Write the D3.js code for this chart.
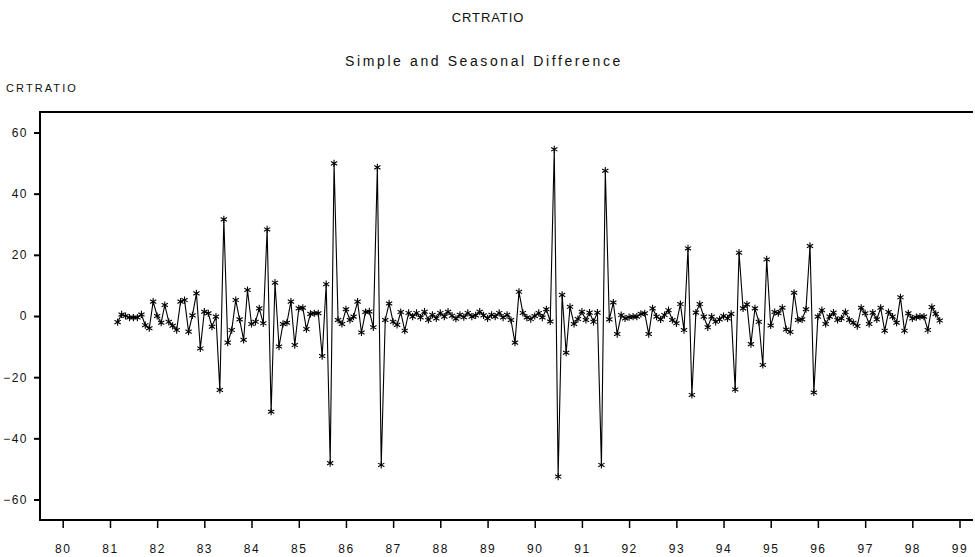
<!DOCTYPE html>
<html>
<head>
<meta charset="utf-8">
<script src="https://cdn.jsdelivr.net/npm/d3@7"></script>
<style>
  body { margin: 0; background: #fff; }
  svg { display: block; }
  text { font-family: "Liberation Sans", Arial, sans-serif; fill: #111; }
</style>
</head>
<body>
<svg id="chart"></svg>
<script>
// monthly observations, first one is March 1981
var startYear = 1981
var startMonth = 2
var values = [
  -2, 0.5, 0, -0.5, -0.5, -0.5, 0.5, -3, -4, 4.7,
  0, -2.2, 3.6, -1.9, -3.2, -4.6, 4.7, 5.2, -5.1, 0.2,
  7.4, -10.6, 1.4, 0.9, -3.5, -0.2, -24.2, 31.6, -8.7, -4.6,
  5.2, -1.1, -7.8, 8.5, -2.6, -1.9, 2.5, -2.4, 28.3, -31.3,
  10.9, -10, -2.6, -2.2, 4.7, -9.5, 2.5, 2.7, -4.3, 0.7,
  0.9, 0.9, -13.1, 10.4, -48.1, 49.9, -1.3, -2.6, 2.2, -1.3,
  -0.2, 4.7, -5.4, 1.3, 1.5, -3.7, 48.6, -48.7, -1.3, 4.1,
  -1.9, -2.9, 1.3, -4.8, 1.0, -0.2, 1.0, -0.5, 1.4, -1.3,
  0.4, -0.8, 1.0, -0.2, 1.4, 0.1, -0.9, 0.4, -0.4, 1.0,
  -0.2, 0.2, 1.4, 0.2, -0.8, 0.4, -0.2, 1.0, -0.5, 0.4,
  -1.3, -8.7, 7.9, 1, -0.5, -1, 0, 1, -0.5, 2.2,
  -1.8, 54.5, -52.5, 6.9, -12, 3, -2.6, -1, 1.4, -1.3,
  1.1, -1.9, 1.1, -48.7, 47.5, -1.1, 4.4, -5.9, 0.3, -0.8,
  -0.4, -0.2, -0.2, 0.7, 0.9, -5.9, 2.5, -0.2, -1.1, 0.3,
  1.9, -1.3, -2.4, 3.9, -4.6, 22.1, -25.8, 1.1, 3.9, -0.2,
  -3.7, -0.2, -1.9, -1.1, 0, -0.8, 0.7, -24, 20.7, 2.5,
  3.8, -9.2, 2.5, -1.9, -16, 18.5, -3.1, 1.3, 0.9, 2.7,
  -4.4, -5.2, 7.6, -1.3, -1.1, 2.2, 22.9, -25, -0.2, 1.9,
  -2.6, -0.2, 1.1, -1.3, -0.8, 1.3, -1.3, -2.2, -3.3, 2.7,
  0.9, -2.6, 1.1, -1.1, 2.7, -4.8, 1.3, -0.2, -2.2, 6.1,
  -4.8, 0.9, -0.8, -0.4, -0.2, -0.2, -4.6, 2.9, 0.7, -1.5
]
var yTicks = [-60, -40, -20, 0, 20, 40, 60]
var xYears = d3.range(1980, 2000)

var width = 975
var height = 557
var plotLeft = 40, plotRight = 973, plotTop = 112, plotBottom = 520

var data = values.map((v, i) => ({date: new Date(startYear, startMonth + i, 1), value: v}))

var x = d3.scaleTime()
    .domain([new Date(1980, 0, 1), new Date(1999, 0, 1)])
    .range([62.7, 959.5])
var y = d3.scaleLinear()
    .domain([-66.7, 66.7])
    .range([plotBottom, plotTop])

const svg = d3.select("#chart")
    .attr("width", width)
    .attr("height", height)

svg.append("text")
    .attr("x", 488).attr("y", 22)
    .attr("text-anchor", "middle")
    .attr("font-size", 13)
    .attr("letter-spacing", 0.9)
    .text("CRTRATIO")

svg.append("text")
    .attr("x", 484).attr("y", 66)
    .attr("text-anchor", "middle")
    .attr("font-size", 14)
    .attr("letter-spacing", 2.6)
    .text("Simple and Seasonal Difference")

svg.append("text")
    .attr("x", 6).attr("y", 92)
    .attr("font-size", 11)
    .attr("letter-spacing", 2.1)
    .text("CRTRATIO")

// frame: left, top, bottom
svg.append("path")
    .attr("fill", "none")
    .attr("stroke", "#000")
    .attr("stroke-width", 2)
    .attr("d", `M${plotRight},${plotTop}H${plotLeft}V${plotBottom}H${plotRight}`)

// y axis
const yAxis = svg.append("g")
    .attr("transform", `translate(${plotLeft},0)`)
    .call(d3.axisLeft(y).tickValues(yTicks).tickSize(6).tickPadding(6).tickFormat(d3.format("d")))
yAxis.select(".domain").remove()
yAxis.selectAll("line").attr("stroke", "#000").attr("stroke-width", 2)
yAxis.selectAll("text")
    .attr("font-size", 12)
    .attr("letter-spacing", 1.5)
    .attr("font-family", '"Liberation Sans", Arial, sans-serif')

// x axis
const xAxis = svg.append("g")
    .attr("transform", `translate(0,${plotBottom})`)
    .call(d3.axisBottom(x).tickValues(xYears.map(yr => new Date(yr, 0, 1))).tickSize(8).tickPadding(16).tickFormat(d3.timeFormat("%y")))
xAxis.select(".domain").remove()
xAxis.selectAll("line").attr("stroke", "#000").attr("stroke-width", 1.5)
xAxis.selectAll("text")
    .attr("font-size", 12)
    .attr("letter-spacing", 1.5)
    .attr("font-family", '"Liberation Sans", Arial, sans-serif')

var line = d3.line()
    .x(d => x(d.date))
    .y(d => y(d.value))

svg.append("path")
    .datum(data)
    .attr("fill", "none")
    .attr("stroke", "#000")
    .attr("stroke-width", 1.1)
    .attr("d", line)

// asterisk markers
var r = 3.6
var star = `M0,${-r}V${r}M${-r*0.87},${-r/2}L${r*0.87},${r/2}M${-r*0.87},${r/2}L${r*0.87},${-r/2}`
svg.append("g")
    .selectAll("path")
    .data(data)
    .join("path")
    .attr("transform", d => `translate(${x(d.date)},${y(d.value)})`)
    .attr("d", star)
    .attr("stroke", "#000")
    .attr("stroke-width", 1.1)
    .attr("fill", "none")
</script>
</body>
</html>
